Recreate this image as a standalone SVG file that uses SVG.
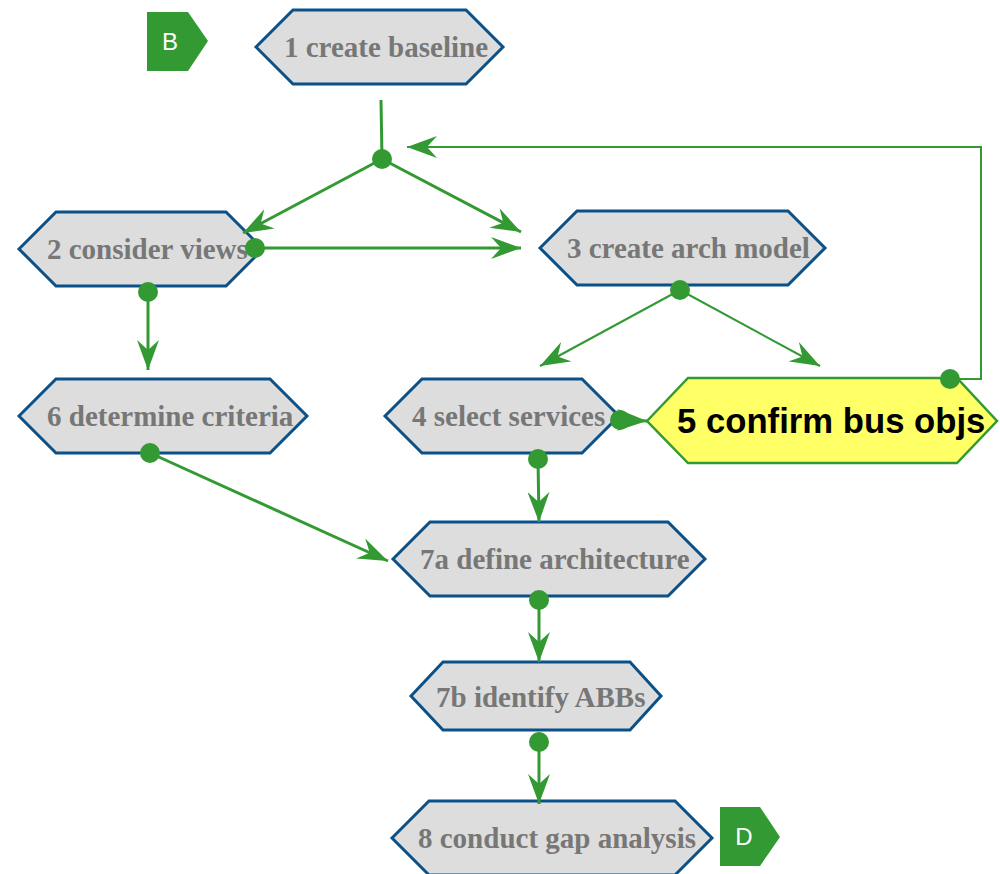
<svg xmlns="http://www.w3.org/2000/svg" width="1000" height="874" viewBox="0 0 1000 874">
<style>
.hex{fill:#dddddd;stroke:#0b5188;stroke-width:3;stroke-linejoin:miter}
.lbl{font-family:"Liberation Serif",serif;font-weight:bold;font-size:29px;fill:#777777}
.tag{fill:#339933}
.tagt{font-family:"Liberation Sans",sans-serif;font-size:24px;fill:#ffffff;text-anchor:middle}
.c{fill:none;stroke:#339933;stroke-width:3}
.t{fill:none;stroke:#339933;stroke-width:2}
.dot{fill:#339933}
</style>
<defs>
<marker id="arr" markerUnits="userSpaceOnUse" viewBox="0 0 30 22" refX="30" refY="11" markerWidth="30" markerHeight="22" orient="auto">
<path d="M0,0 L30,11 L0,22 L10,11 Z" fill="#339933"/>
</marker>
</defs>
<g id="tagB">
<path class="tag" d="M147,12 L188,12 L208,41 L188,71 L147,71 Z"/>
<text class="tagt" x="170" y="50">B</text>
</g>
<g id="n1">
<path class="hex" d="M256,47 L293,10 L466,10 L503,47 L466,84 L293,84 Z"/>
<text class="lbl" x="284" y="57">1 create baseline</text>
</g>
<g id="n2">
<path class="hex" d="M19,249 L56,212 L226,212 L263,249 L226,286 L56,286 Z"/>
<text class="lbl" x="47" y="259">2 consider views</text>
</g>
<g id="n3">
<path class="hex" d="M540,248 L577,211 L788,211 L825,248 L788,285 L577,285 Z"/>
<text class="lbl" x="567" y="258">3 create arch model</text>
</g>
<g id="n6">
<path class="hex" d="M19,416 L56,379 L270,379 L307,416 L270,453 L56,453 Z"/>
<text class="lbl" x="47" y="426">6 determine criteria</text>
</g>
<g id="n4">
<path class="hex" d="M385,416 L422,379 L582,379 L619,416 L582,453 L422,453 Z"/>
<text class="lbl" x="412" y="426">4 select services</text>
</g>
<g id="n5">
<path d="M647,421 L688,378 L957,378 L997,421 L957,463 L688,463 Z" fill="#ffff66" stroke="#339933" stroke-width="2.5"/>
<text x="677" y="433" font-family="'Liberation Sans',sans-serif" font-weight="bold" font-size="34.7" fill="#000000">5 confirm bus objs</text>
</g>
<g id="n7a">
<path class="hex" d="M393,559 L430,522 L668,522 L705,559 L668,596 L430,596 Z"/>
<text class="lbl" x="420" y="569">7a define architecture</text>
</g>
<g id="n7b">
<path class="hex" d="M411,696 L443,662 L630,662 L661,696 L630,730 L443,730 Z"/>
<text class="lbl" x="436" y="707">7b identify ABBs</text>
</g>
<g id="n8">
<path class="hex" d="M392,838 L429,801 L675,801 L712,838 L675,875 L429,875 Z"/>
<text class="lbl" x="418" y="848">8 conduct gap analysis</text>
</g>
<g id="tagD">
<path class="tag" d="M720,807 L760,807 L780,837 L760,866 L720,866 Z"/>
<text class="tagt" x="744" y="845">D</text>
</g>
<g id="connectors">
<path class="c" d="M381,100 L382,159"/>
<path class="c" d="M382,159 L243,233" marker-end="url(#arr)"/>
<path class="c" d="M382,159 L521,232" marker-end="url(#arr)"/>
<path class="c" d="M255,248 L521,248" marker-end="url(#arr)"/>
<path class="c" d="M148,292 L148,370" marker-end="url(#arr)"/>
<path class="t" d="M680,290 L540,366" marker-end="url(#arr)"/>
<path class="t" d="M680,290 L820,366" marker-end="url(#arr)"/>
<path class="t" d="M950,379 L981,379 L981,147 L407,147" marker-end="url(#arr)"/>
<path class="c" d="M620,420 L647,421" marker-end="url(#arr)"/>
<path class="c" d="M150,453 L388,561" marker-end="url(#arr)"/>
<path class="c" d="M538,459 L539,522" marker-end="url(#arr)"/>
<path class="c" d="M539,600 L539,662" marker-end="url(#arr)"/>
<path class="c" d="M539,742 L539,804" marker-end="url(#arr)"/>
<circle class="dot" cx="382" cy="159" r="10"/>
<circle class="dot" cx="255" cy="248" r="10"/>
<circle class="dot" cx="148" cy="292" r="10"/>
<circle class="dot" cx="680" cy="290" r="10"/>
<circle class="dot" cx="950" cy="379" r="10"/>
<circle class="dot" cx="620" cy="420" r="10"/>
<circle class="dot" cx="150" cy="453" r="10"/>
<circle class="dot" cx="538" cy="459" r="10"/>
<circle class="dot" cx="539" cy="600" r="10"/>
<circle class="dot" cx="539" cy="742" r="10"/>
</g>
</svg>
